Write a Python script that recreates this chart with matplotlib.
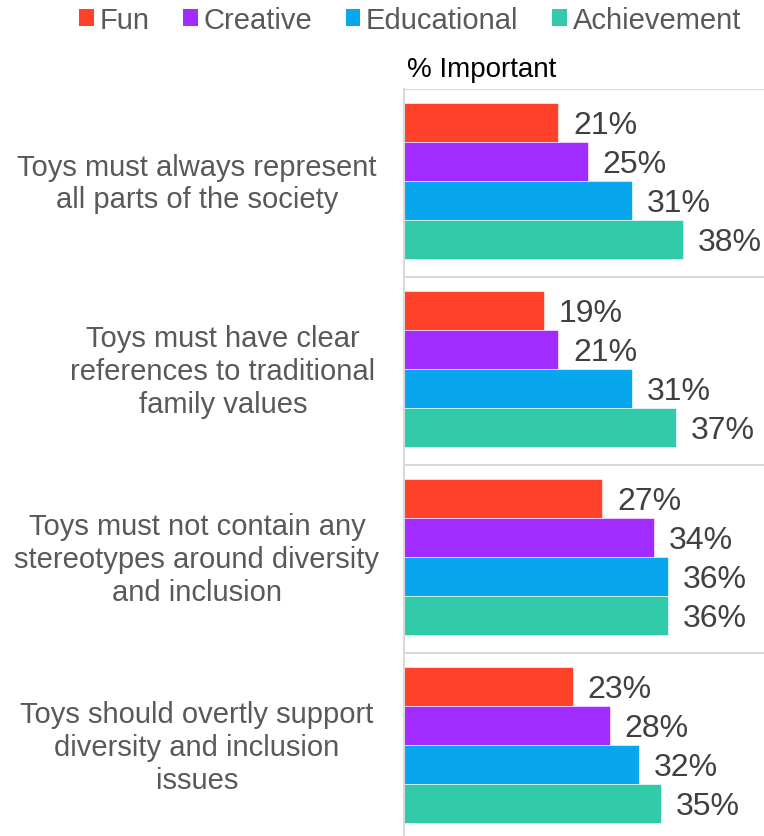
import numpy as np
import matplotlib
matplotlib.use('Agg')
import matplotlib.pyplot as plt
import matplotlib.transforms as mtransforms
from matplotlib.patches import Patch

plt.rcParams['font.family'] = ['Liberation Sans', 'DejaVu Sans']

# Donnees
statements = [
    'Toys must always represent\nall parts of the society',
    'Toys must have clear\nreferences to traditional\nfamily values',
    'Toys must not contain any\nstereotypes around diversity\nand inclusion',
    'Toys should overtly support\ndiversity and inclusion\nissues',
]
series = ['Fun', 'Creative', 'Educational', 'Achievement']
fun = [21, 19, 27, 23]
creative = [25, 21, 34, 28]
educational = [31, 31, 36, 32]
achievement = [38, 37, 36, 35]

colors = ['#FF4129', '#A22BFF', '#08A6EC', '#31CBA9']
label_grey = '#595959'
value_grey = '#404040'

fig = plt.figure(figsize=(7.64, 8.37), dpi=100)
W, H = 764, 837
ax = fig.add_axes([404 / W, -5 / H, 360 / W, 752 / H])

y = np.arange(len(statements))
bar_h = 0.207
values = [fun, creative, educational, achievement]
for k, (name, vals, col) in enumerate(zip(series, values, colors)):
    pos = y + (k - 1.5) * bar_h - 0.012
    ax.barh(pos, vals, height=bar_h, color=col, label=name,
            edgecolor='white', linewidth=0.4)
    for p, v in zip(pos, vals):
        ax.text(v + 2.0, p + 0.014, f'{v}%', va='center', ha='left',
                fontsize=23, color=value_grey)

ax.set_xlim(0, 49)
ax.set_ylim(3.5, -0.5)
ax.set_xticks([])
ax.set_yticks([])
ax.set_yticks(np.arange(-0.5, 4.0, 1.0), minor=True)
ax.tick_params(which='both', length=0, labelleft=False)
ax.grid(True, which='minor', axis='y', color='#D9D9D9', linewidth=1.5)
ax.set_axisbelow(True)
for s in ['top', 'right', 'bottom']:
    ax.spines[s].set_visible(False)
ax.spines['left'].set_color('#D9D9D9')
ax.spines['left'].set_linewidth(1.5)

# Libelles des categories, centres a gauche de l'axe
label_x = [197, 223, 197, 197]
trans = mtransforms.blended_transform_factory(fig.transFigure, ax.transData)
for i, txt in enumerate(statements):
    ax.text(label_x[i] / W, y[i], txt, transform=trans,
            ha='center', va='center', fontsize=21, color=label_grey,
            linespacing=1.22)

fig.text(407 / W, 1 - 70 / H, '% Important', ha='left', va='center',
         fontsize=20, color='black')

handles = [Patch(facecolor=c, label=s) for c, s in zip(colors, series)]
leg = fig.legend(handles=handles, loc='center', ncol=4,
                 bbox_to_anchor=(410 / W, 1 - 21 / H), frameon=False,
                 fontsize=21, handlelength=0.5, handleheight=0.5,
                 handletextpad=0.2, columnspacing=1.15, borderpad=0)
for t in leg.get_texts():
    t.set_color(label_grey)

fig.savefig('out.png', dpi=100)
